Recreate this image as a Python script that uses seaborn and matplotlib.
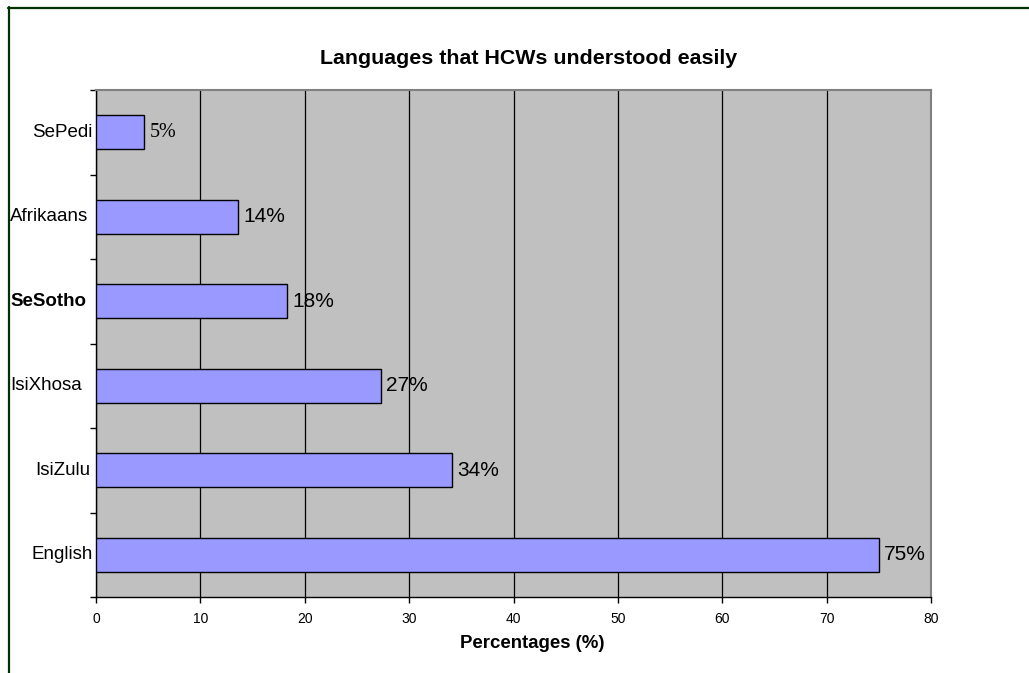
import matplotlib
matplotlib.use("Agg")
import matplotlib.pyplot as plt
import matplotlib.transforms as mtransforms
from matplotlib.lines import Line2D
import seaborn as sns
import pandas as pd

# Survey results: share of health-care workers (HCWs) who understood each language easily
languages = ["SePedi", "Afrikaans", "SeSotho", "IsiXhosa", "IsiZulu", "English"]
percentages = [4.6, 13.6, 18.3, 27.3, 34.1, 75.0]
x_ticks = [0, 10, 20, 30, 40, 50, 60, 70, 80]

title = "Languages that HCWs understood easily"
x_label = "Percentages (%)"

df = pd.DataFrame({"language": languages, "pct": percentages})

sns.set_theme(style="white")
plt.rcParams["font.family"] = ["Liberation Sans", "DejaVu Sans"]
plt.rcParams["text.color"] = "black"
plt.rcParams["xtick.labelcolor"] = "black"
plt.rcParams["ytick.labelcolor"] = "black"
plt.rcParams["xtick.color"] = "black"
plt.rcParams["ytick.color"] = "black"

W, H, DPI = 1029, 673, 100
fig = plt.figure(figsize=(W / DPI, H / DPI), dpi=DPI, facecolor="white")
ax = fig.add_axes([96 / W, 1 - 597 / H, (931 - 96) / W, (597 - 90) / H])
ax.set_facecolor("#C0C0C0")

sns.barplot(data=df, x="pct", y="language", orient="h", order=languages,
            color="#9999FF", saturation=1, width=0.40,
            edgecolor="black", linewidth=1.0, ax=ax, zorder=3)

n = len(languages)
ax.set_xlim(0, 80)
ax.set_ylim(n - 0.5, -0.5)
ax.set_xticks(x_ticks)
ax.set_xticklabels([str(t) for t in x_ticks], fontsize=10, color="black")
ax.set_yticks([i - 0.5 for i in range(n + 1)])
ax.set_yticklabels([])
ax.tick_params(axis="x", direction="out", length=4, width=1, color="black", pad=7)
ax.tick_params(axis="y", direction="out", length=4, width=1, color="black")
ax.tick_params(bottom=True, left=True)
ax.set_xlabel("")
ax.set_ylabel("")

# vertical gridlines
ax.grid(False)
ax.xaxis.grid(True, color="black", linewidth=0.9, zorder=1)
ax.set_axisbelow(True)

for side in ["left", "bottom"]:
    ax.spines[side].set_color("black")
    ax.spines[side].set_linewidth(1.0)
for side in ["top", "right"]:
    ax.spines[side].set_color("#808080")
    ax.spines[side].set_linewidth(1.5)

# value labels at the end of each bar
labels = [f"{round(v)}%" for v in percentages]
texts = ax.bar_label(ax.containers[0], labels=labels, padding=4, fontsize=15, color="black")
texts[0].set_fontfamily("Liberation Serif")
texts[0].set_fontsize(14.5)

# category labels: centred in the label column, long ones start at the column edge
fig.canvas.draw()
renderer = fig.canvas.get_renderer()
trans = mtransforms.blended_transform_factory(fig.transFigure, ax.transData)
for i, lang in enumerate(languages):
    weight = "bold" if lang == "SeSotho" else "normal"
    t = ax.text(62.5 / W, i, lang, transform=trans, ha="center", va="center",
                fontsize=13.5, fontweight=weight, color="black")
    w = t.get_window_extent(renderer).width
    if w > 63:
        t.set_x(10 / W)
        t.set_ha("left")

fig.text(529 / W, 1 - 58 / H, title, ha="center", va="center",
         fontsize=15.4, fontweight="bold", color="black")
fig.text(532 / W, 1 - 643 / H, x_label, ha="center", va="center",
         fontsize=13.4, fontweight="bold", color="black")

# chart frame
frame_color = "#003300"
fig.add_artist(Line2D([8.5 / W, 8.5 / W], [0, 1 - 7 / H], transform=fig.transFigure,
                      color=frame_color, linewidth=1.6))
fig.add_artist(Line2D([8 / W, 1], [1 - 7.5 / H, 1 - 7.5 / H], transform=fig.transFigure,
                      color=frame_color, linewidth=1.6))

fig.savefig("out.png", dpi=DPI, facecolor="white")
